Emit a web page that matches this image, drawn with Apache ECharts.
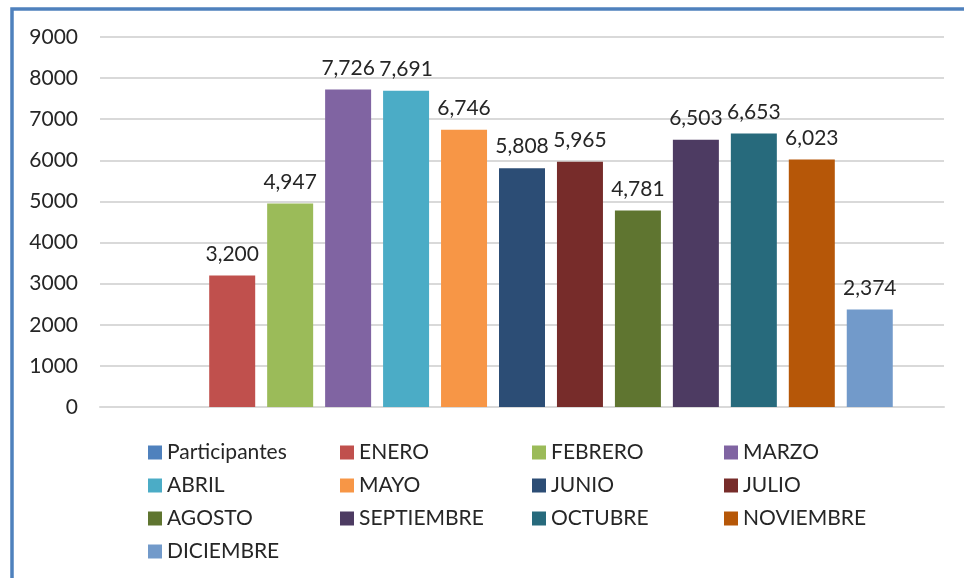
<!DOCTYPE html>
<html>
<head>
<meta charset="utf-8">
<script src="https://cdn.jsdelivr.net/npm/echarts@6/dist/echarts.min.js"></script>
<style>
  html, body { margin: 0; padding: 0; background: #fff; }
  #chart { width: 964px; height: 578px; }
</style>
</head>
<body>
<div id="chart"></div>
<script>
// series names (legend order) and their values, one category only
const seriesNames = ['Participantes', 'ENERO', 'FEBRERO', 'MARZO', 'ABRIL', 'MAYO', 'JUNIO',
  'JULIO', 'AGOSTO', 'SEPTIEMBRE', 'OCTUBRE', 'NOVIEMBRE', 'DICIEMBRE']
const seriesValues = [null, 3200, 4947, 7726, 7691, 6746, 5808, 5965, 4781, 6503, 6653, 6023, 2374]
const seriesColors = ['#4F81BD', '#C0504D', '#9BBB59', '#8064A2', '#4BACC6', '#F79646', '#2C4D75',
  '#772C2A', '#5F7530', '#4D3B62', '#276A7C', '#B65708', '#729ACA']
const yTicks = [0, 1000, 2000, 3000, 4000, 5000, 6000, 7000, 8000, 9000]

const chart = echarts.init(document.getElementById('chart'))
const font = 'Lato, "Open Sans", sans-serif'

const option = {
  animation: false,
  textStyle: { fontFamily: font },
  graphic: [{
    type: 'rect',
    shape: { x: 12, y: 9, width: 1000, height: 1000 },
    style: { fill: 'none', stroke: '#4F81BD', lineWidth: 3.5 }
  }],
  grid: { left: 100, right: 20, top: 37, bottom: 171 },
  legend: {
    left: 143,
    top: 431,
    width: 790,
    itemWidth: 14,
    itemHeight: 14,
    itemGap: 0,
    icon: 'rect',
    textStyle: { fontFamily: font, fontSize: 21, color: '#262626', width: 173, height: 33, lineHeight: 33 },
    data: seriesNames
  },
  xAxis: {
    type: 'category',
    data: [''],
    axisLine: { lineStyle: { color: '#d9d9d9', width: 2 } },
    axisTick: { show: false },
    axisLabel: { show: false }
  },
  yAxis: {
    type: 'value',
    min: yTicks[0],
    max: yTicks[yTicks.length - 1],
    interval: 1000,
    axisLine: { show: false },
    axisTick: { show: false },
    axisLabel: { fontFamily: font, fontSize: 21, color: '#262626', margin: 22, formatter: v => String(v) },
    splitLine: { lineStyle: { color: '#d9d9d9', width: 2 } }
  },
  series: seriesNames.map((name, i) => ({
    name,
    type: 'bar',
    data: [seriesValues[i]],
    barWidth: 46,
    barGap: '26%',
    itemStyle: { color: seriesColors[i] },
    label: {
      show: true,
      position: 'top',
      distance: 11,
      fontFamily: font,
      fontSize: 21,
      color: '#262626',
      formatter: p => p.value == null ? '' : p.value.toLocaleString('en-US')
    }
  }))
}

chart.setOption(option)
</script>
</body>
</html>
